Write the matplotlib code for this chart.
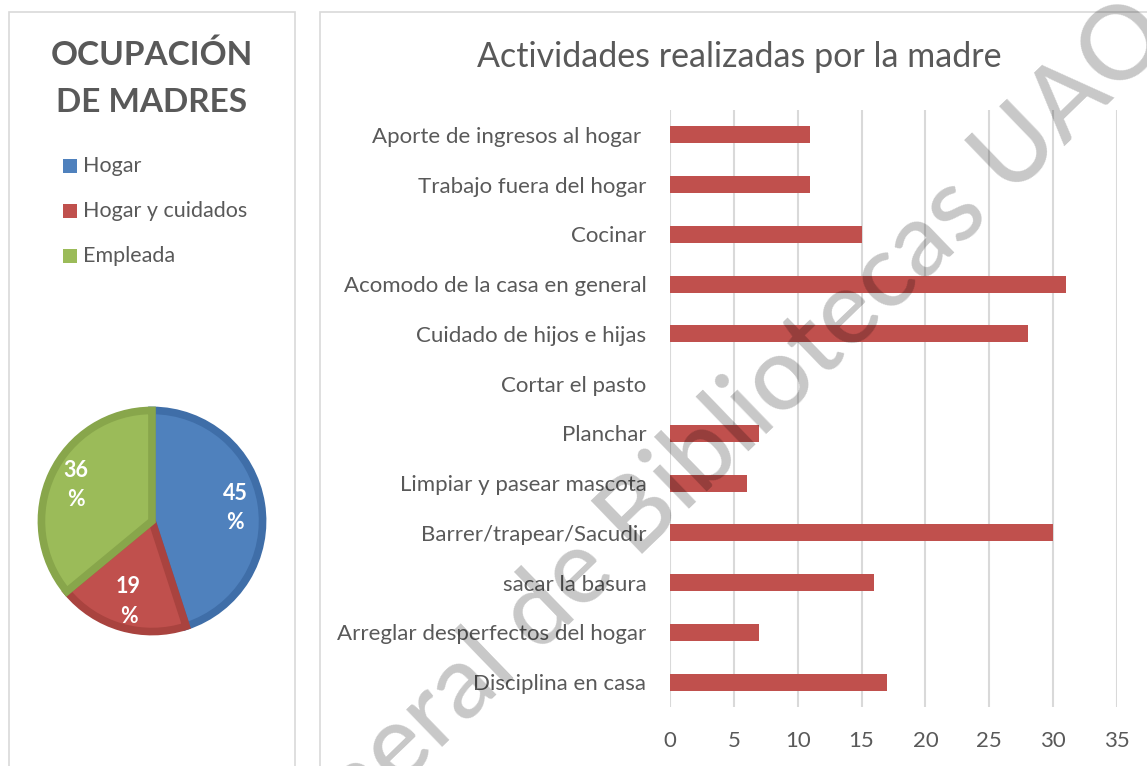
import matplotlib
matplotlib.use('Agg')
import matplotlib.pyplot as plt
from matplotlib.patches import Rectangle
import numpy as np

W, H = 1147, 766
plt.rcParams['font.family'] = ['Lato', 'DejaVu Sans']
TXT = '#595959'

# ---- data ----
pie_title = ['OCUPACIÓN', 'DE MADRES']
pie_labels = ['Hogar', 'Hogar y cuidados', 'Empleada']
pie_values = [45, 19, 36]
pie_colors = ['#4F81BD', '#C0504D', '#9BBB59']
pie_edges = ['#3F6EA8', '#A9433F', '#88A64B']

bar_title = 'Actividades realizadas por la madre'
activities = ['Aporte de ingresos al hogar ', 'Trabajo fuera del hogar', 'Cocinar',
              'Acomodo de la casa en general', 'Cuidado de hijos e hijas',
              'Cortar el pasto', 'Planchar', 'Limpiar y pasear mascota',
              'Barrer/trapear/Sacudir', 'sacar la basura',
              'Arreglar desperfectos del hogar', 'Disciplina en casa']
counts = [11, 11, 15, 31, 28, 0, 7, 6, 30, 16, 7, 17]
xticks = [0, 5, 10, 15, 20, 25, 30, 35]

watermark_a = 'Dirección General de'
watermark_b = 'Bibliotecas UAQ'

fig = plt.figure(figsize=(W / 100, H / 100), dpi=100)


def px_rect(x0, y0, x1, y1):
    return [x0 / W, 1 - y1 / H, (x1 - x0) / W, (y1 - y0) / H]


def fx(x):
    return x / W


def fy(y):
    return 1 - y / H


# panel borders
for x0, wd in [(9, 286), (320, 900)]:
    fig.patches.append(Rectangle((x0 / W, -0.05), wd / W, 1.05 - 12 / H,
                                 transform=fig.transFigure, fill=False,
                                 edgecolor='#D9D9D9', linewidth=1.2, zorder=0))

# ---- left panel: title + legend + pie ----
for line, yy in zip(pie_title, [55, 102]):
    fig.text(fx(152), fy(yy), line, ha='center', va='center',
             fontsize=24, fontweight='bold', color=TXT)

for i, (lab, col) in enumerate(zip(pie_labels, pie_colors)):
    yy = 166 + 45 * i
    fig.patches.append(Rectangle((fx(63), fy(yy + 7)), 14 / W, 14 / H,
                                 transform=fig.transFigure, facecolor=col,
                                 edgecolor='none'))
    fig.text(fx(83), fy(yy), lab, ha='left', va='center', fontsize=15.5,
             color=TXT)

ax_pie = fig.add_axes(px_rect(152 - 114, 521 - 114, 152 + 114, 521 + 114))
wedges, texts, autotexts = ax_pie.pie(
    pie_values, colors=pie_colors, startangle=90, counterclock=False,
    radius=0.97, autopct=lambda p: f'{p:.0f}\n%', pctdistance=0.76,
    wedgeprops=dict(linewidth=5.5),
    textprops=dict(color='white', fontweight='bold', fontsize=15.5))
for w, ec in zip(wedges, pie_edges):
    w.set_edgecolor(ec)
    w.set_joinstyle('miter')
for t in autotexts:
    t.set_linespacing(1.5)
ax_pie.set_xlim(-1, 1)
ax_pie.set_ylim(-1, 1)
ax_pie.set_aspect('equal')
ax_pie.axis('off')

# ---- right panel: bars ----
fig.text(fx(739), fy(57), bar_title, ha='center', va='center',
         fontsize=24.5, color=TXT)

ax = fig.add_axes(px_rect(670, 110, 1117, 707))
y = np.arange(len(activities))
ax.barh(y, counts, height=0.34, color='#C0504D', linewidth=0, zorder=3)
ax.set_ylim(len(activities) - 0.5, -0.5)
ax.set_xlim(0, 35)
ax.set_xticks(xticks)
ax.set_yticks(y)
ax.set_yticklabels(activities)
ax.grid(axis='x', color='#D9D9D9', linewidth=1.5, zorder=0)
ax.set_axisbelow(True)
for s in ax.spines.values():
    s.set_visible(False)
ax.tick_params(axis='both', length=0, labelsize=16, labelcolor=TXT)
ax.tick_params(axis='x', pad=17)
ax.tick_params(axis='y', pad=17)

# ---- watermark ----
ang = 44
bx, by = 636, 560
sp = 24
dx, dy = np.cos(np.radians(ang)) * sp, np.sin(np.radians(ang)) * sp
for txt, x0, y0, ha in [(watermark_b, bx, by, 'left'),
                        (watermark_a, bx - dx, by + dy, 'right')]:
    fig.text(fx(x0), fy(y0), txt, ha=ha, va='baseline', rotation=ang,
             rotation_mode='anchor', fontsize=74, fontweight='medium',
             color='black', alpha=0.22, zorder=10)

fig.savefig('out.png', dpi=100)
